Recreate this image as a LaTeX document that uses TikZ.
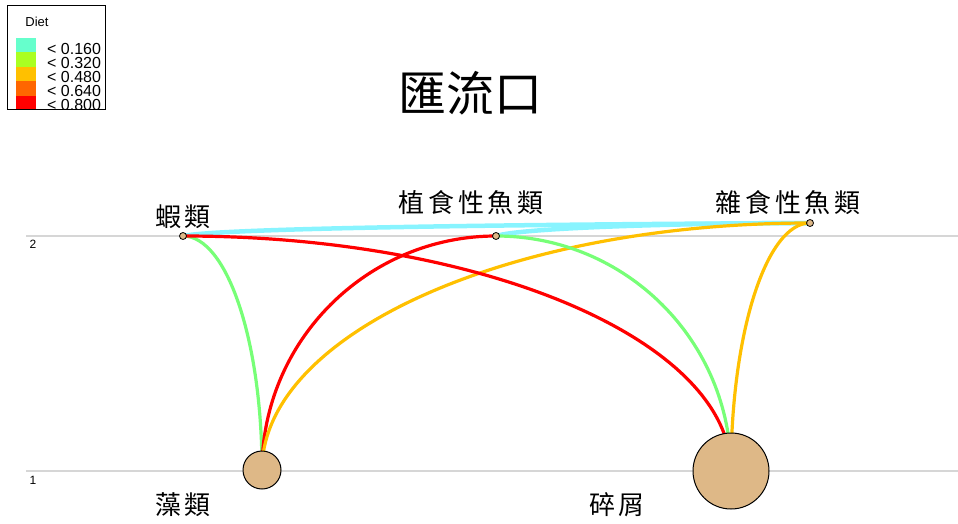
\documentclass[tikz,border=0pt]{standalone}
\usepackage{fontspec}
\setmainfont{Liberation Sans}
\newfontfamily\cjk{Noto Sans CJK TC}
\newfontfamily\cjksp[LetterSpace=14]{Noto Sans CJK TC}
\usetikzlibrary{backgrounds}
\definecolor{cyanE}{HTML}{88F4FF}
\definecolor{greenE}{HTML}{77FF77}
\definecolor{redE}{HTML}{FF0000}
\definecolor{orangeE}{HTML}{FFC000}
\definecolor{nodeF}{HTML}{DEB887}
\definecolor{axisG}{HTML}{D6D6D6}
\definecolor{legA}{HTML}{66FFCC}
\definecolor{legB}{HTML}{AAFF22}
\definecolor{legC}{HTML}{FFC000}
\definecolor{legD}{HTML}{FF6600}
\definecolor{legE}{HTML}{FF0000}
\tikzset{
  smallnode/.style={circle,draw=black,fill=nodeF,line width=0.8pt,inner sep=0pt,minimum size=7pt},
  bignode/.style={circle,draw=black,fill=nodeF,line width=1pt,inner sep=0pt},
  splabel/.style={font=\cjksp\fontsize{26}{30}\selectfont,inner sep=0pt},
  axisline/.style={axisG,line width=1.2pt},
  axislabel/.style={font=\fontsize{12}{14}\selectfont,inner sep=0pt},
  edge/.style={line width=3.2pt},
  cyanedge/.style={cyanE,line width=4.5pt},
  legtext/.style={font=\fontsize{16}{16}\selectfont,anchor=base west,inner sep=0pt},
}
\begin{document}
\begin{tikzpicture}[x=1pt,y=-1pt]
\useasboundingbox (0,0) rectangle (958,524);
% nodes
\node[smallnode] (shrimp) at (183,236) {};
\node[smallnode] (herb) at (496,236) {};
\node[smallnode] (omni) at (810,223) {};
\node[bignode,minimum size=38pt] (alg) at (262,470) {};
\node[bignode,minimum size=76pt] (det) at (731,471) {};
% labels
\node[splabel] (lshrimp) at (183,217) {蝦類};
\node[splabel] (lherb) at (471,203) {植食性魚類};
\node[splabel] (lomni) at (788,203) {雜食性魚類};
\node[splabel] (lalg) at (183,505) {藻類};
\node[splabel] (ldet) at (617,505) {碎屑};
\node[font=\cjk\fontsize{48}{50}\selectfont,inner sep=0pt] (title) at (470,93) {匯流口};
% axis
\node[axislabel] (ax2) at (33,244) {2};
\node[axislabel] (ax1) at (33,480) {1};
\begin{scope}[on background layer]
  \coordinate (g2a) at (26,236); \coordinate (g2b) at (958,236);
  \coordinate (g1a) at (26,471); \coordinate (g1b) at (958,471);
  \draw[axisline] (g2a) -- (g2b);
  \draw[axisline] (g1a) -- (g1b);
  % edges
  \draw[cyanedge] (shrimp.center) .. controls (225,227) and (600,224) .. (omni.center);
  \draw[cyanedge] (herb.center) .. controls (525,227) and (700,223) .. (omni.center);
  \draw[edge,greenE] (alg.center) .. controls (262,341) and (227,236) .. (shrimp.center);
  \draw[edge,redE] (alg.center) .. controls (262,341) and (367,236) .. (herb.center);
  \draw[edge,orangeE] (alg.center) .. controls (262,334) and (508,223) .. (omni.center);
  \draw[edge,redE] (det.center) .. controls (731,341) and (485,236) .. (shrimp.center);
  \draw[edge,greenE] (det.center) .. controls (731,341) and (626,236) .. (herb.center);
  \draw[edge,orangeE] (det.center) .. controls (731,334) and (766,223) .. (omni.center);
\end{scope}
% legend
\begin{scope}
  \clip (7,6) rectangle (105,110);
  \node[font=\fontsize{13}{15}\selectfont,inner sep=0pt] (ldiet) at (37,22) {Diet};
  \fill[legA] (16,37.7) rectangle (36,52.2);
  \fill[legB] (16,52.2) rectangle (36,66.7);
  \fill[legC] (16,66.7) rectangle (36,81.2);
  \fill[legD] (16,81.2) rectangle (36,95.7);
  \fill[legE] (16,95.7) rectangle (36,110.2);
  \node[legtext] (t1) at (47,55) {< 0.160};
  \node[legtext] (t2) at (47,69) {< 0.320};
  \node[legtext] (t3) at (47,83) {< 0.480};
  \node[legtext] (t4) at (47,97) {< 0.640};
  \node[legtext] (t5) at (47,111) {< 0.800};
\end{scope}
\draw[black,line width=1pt] (7,6) rectangle (105,110);
\end{tikzpicture}
\end{document}
